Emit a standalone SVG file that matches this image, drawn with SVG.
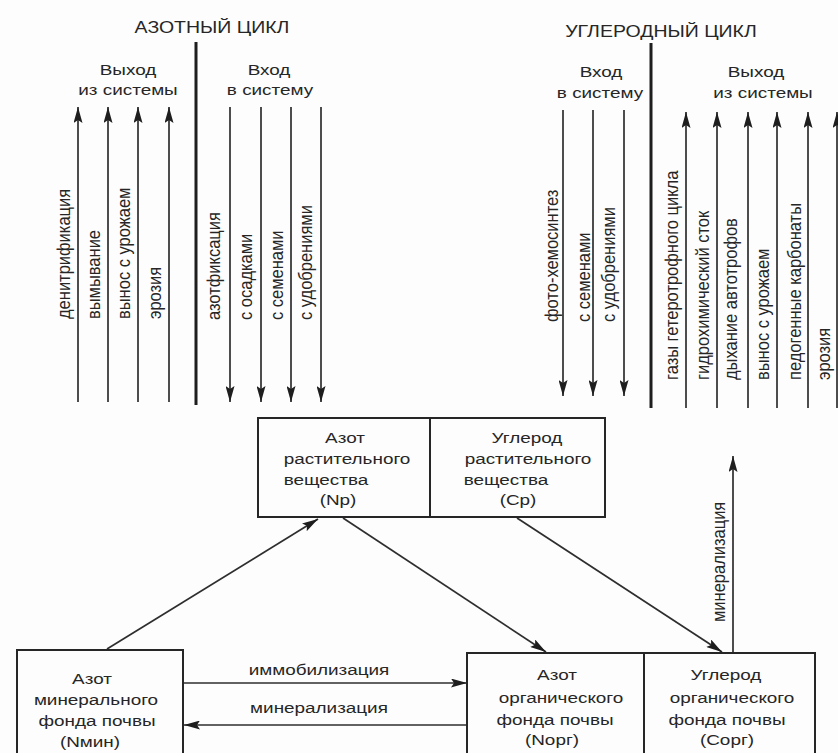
<svg xmlns="http://www.w3.org/2000/svg" width="838" height="753" viewBox="0 0 838 753">
<defs>
<style>
text{font-family:"Liberation Sans",Arial,sans-serif;fill:#262626;font-size:15.5px}
.c{text-anchor:middle}
.v{font-size:16.5px;text-anchor:start}
.t{font-size:16px}
.ln{stroke:#2e2e2e;stroke-width:1.7;fill:none}
.dv{stroke:#1e1e1e;stroke-width:3;fill:none}
.box{fill:none;stroke:#262626;stroke-width:2}
</style>
<marker id="ah" viewBox="0 0 16 9" refX="16" refY="4.5" markerWidth="16" markerHeight="9" markerUnits="userSpaceOnUse" orient="auto">
<path d="M0,0 L16,4.5 L0,9 L3,4.5 z" fill="#1e1e1e"/>
</marker>
</defs>
<rect width="838" height="753" fill="#fdfdfd"/>

<g id="headers">
<text class="c t" transform="translate(212 33) scale(1.22 1)">АЗОТНЫЙ ЦИКЛ</text>
<text class="c t" transform="translate(661 37) scale(1.22 1)">УГЛЕРОДНЫЙ ЦИКЛ</text>
<text class="c" transform="translate(128 75) scale(1.22 1)">Выход</text>
<text class="c" transform="translate(128 95) scale(1.22 1)">из системы</text>
<text class="c" transform="translate(269 75) scale(1.22 1)">Вход</text>
<text class="c" transform="translate(270 95) scale(1.22 1)">в систему</text>
<text class="c" transform="translate(601 77) scale(1.22 1)">Вход</text>
<text class="c" transform="translate(600 98) scale(1.22 1)">в систему</text>
<text class="c" transform="translate(756 77) scale(1.22 1)">Выход</text>
<text class="c" transform="translate(763 98) scale(1.22 1)">из системы</text>
</g>

<g id="connectors">
<line class="dv" x1="196" y1="42" x2="196" y2="405"/>
<line class="dv" x1="651" y1="43" x2="651" y2="408"/>
<line class="ln" x1="78" y1="402" x2="78" y2="107" marker-end="url(#ah)"/>
<line class="ln" x1="108" y1="402" x2="108" y2="107" marker-end="url(#ah)"/>
<line class="ln" x1="138" y1="402" x2="138" y2="107" marker-end="url(#ah)"/>
<line class="ln" x1="169" y1="402" x2="169" y2="107" marker-end="url(#ah)"/>
<line class="ln" x1="230" y1="107" x2="230" y2="402" marker-end="url(#ah)"/>
<line class="ln" x1="261" y1="107" x2="261" y2="402" marker-end="url(#ah)"/>
<line class="ln" x1="291" y1="107" x2="291" y2="402" marker-end="url(#ah)"/>
<line class="ln" x1="321" y1="107" x2="321" y2="402" marker-end="url(#ah)"/>
<line class="ln" x1="563" y1="110" x2="563" y2="396" marker-end="url(#ah)"/>
<line class="ln" x1="593" y1="110" x2="593" y2="396" marker-end="url(#ah)"/>
<line class="ln" x1="624" y1="110" x2="624" y2="396" marker-end="url(#ah)"/>
<line class="ln" x1="686" y1="408" x2="686" y2="112" marker-end="url(#ah)"/>
<line class="ln" x1="717" y1="408" x2="717" y2="112" marker-end="url(#ah)"/>
<line class="ln" x1="748" y1="408" x2="748" y2="112" marker-end="url(#ah)"/>
<line class="ln" x1="777" y1="408" x2="777" y2="112" marker-end="url(#ah)"/>
<line class="ln" x1="808" y1="408" x2="808" y2="112" marker-end="url(#ah)"/>
<line class="ln" x1="837" y1="408" x2="837" y2="112" marker-end="url(#ah)"/>
<line class="ln" x1="107" y1="649" x2="318" y2="519" marker-end="url(#ah)"/>
<line class="ln" x1="343" y1="518" x2="546" y2="652" marker-end="url(#ah)"/>
<line class="ln" x1="517" y1="518" x2="722" y2="652" marker-end="url(#ah)"/>
<line class="ln" x1="733" y1="653" x2="733" y2="456" marker-end="url(#ah)"/>
<line class="ln" x1="184" y1="683" x2="467" y2="683" marker-end="url(#ah)"/>
<line class="ln" x1="467" y1="725" x2="184" y2="725" marker-end="url(#ah)"/>

<text class="v" transform="translate(70 319) scale(1.15 1) rotate(-90)">денитрификация</text>
<text class="v" transform="translate(100 319) scale(1.15 1) rotate(-90)">вымывание</text>
<text class="v" transform="translate(130 319) scale(1.15 1) rotate(-90)">вынос с урожаем</text>
<text class="v" transform="translate(161 319) scale(1.15 1) rotate(-90)">эрозия</text>
<text class="v" transform="translate(220 320) scale(1.15 1) rotate(-90)">азотфиксация</text>
<text class="v" transform="translate(252 320) scale(1.15 1) rotate(-90)">с осадками</text>
<text class="v" transform="translate(283 320) scale(1.15 1) rotate(-90)">с семенами</text>
<text class="v" transform="translate(312 320) scale(1.15 1) rotate(-90)">с удобрениями</text>
<text class="v" transform="translate(558 322) scale(1.15 1) rotate(-90)">фото-хемосинтез</text>
<text class="v" transform="translate(590 322) scale(1.15 1) rotate(-90)">с семенами</text>
<text class="v" transform="translate(615 322) scale(1.15 1) rotate(-90)">с удобрениями</text>
<text class="v" transform="translate(678 380) scale(1.15 1) rotate(-90)">газы гетеротрофного цикла</text>
<text class="v" transform="translate(709 380) scale(1.15 1) rotate(-90)">гидрохимический сток</text>
<text class="v" transform="translate(737 380) scale(1.15 1) rotate(-90)">дыхание автотрофов</text>
<text class="v" transform="translate(769 380) scale(1.15 1) rotate(-90)">вынос с урожаем</text>
<text class="v" transform="translate(801 380) scale(1.15 1) rotate(-90)">педогенные карбонаты</text>
<text class="v" transform="translate(830 380) scale(1.15 1) rotate(-90)">эрозия</text>
<text class="v" transform="translate(725 622) scale(1.15 1) rotate(-90)">минерализация</text>
<text class="c" transform="translate(319 675) scale(1.22 1)">иммобилизация</text>
<text class="c" transform="translate(319 713) scale(1.22 1)">минерализация</text>
</g>

<g id="np">
<rect class="box" x="258" y="418" width="172" height="99"/>
<text class="c" transform="translate(345 443) scale(1.22 1)">Азот</text>
<text class="c" transform="translate(347 464) scale(1.22 1)">растительного</text>
<text class="c" transform="translate(326 485) scale(1.22 1)">вещества</text>
<text class="c" transform="translate(338 505) scale(1.22 1)">(Np)</text>
</g>
<g id="cp">
<rect class="box" x="430" y="418" width="175" height="99"/>
<text class="c" transform="translate(527 443) scale(1.22 1)">Углерод</text>
<text class="c" transform="translate(528 464) scale(1.22 1)">растительного</text>
<text class="c" transform="translate(506 485) scale(1.22 1)">вещества</text>
<text class="c" transform="translate(518 505) scale(1.22 1)">(Cp)</text>
</g>
<g id="nmin">
<rect class="box" x="17" y="650" width="166" height="104"/>
<text class="c" transform="translate(92 684) scale(1.22 1)">Азот</text>
<text class="c" transform="translate(96 705) scale(1.22 1)">минерального</text>
<text class="c" transform="translate(97 726) scale(1.22 1)">фонда почвы</text>
<text class="c" transform="translate(90 747) scale(1.22 1)">(Nмин)</text>
</g>
<g id="norg">
<rect class="box" x="467" y="653" width="177" height="101"/>
<text class="c" transform="translate(557 680) scale(1.22 1)">Азот</text>
<text class="c" transform="translate(561 703) scale(1.22 1)">органического</text>
<text class="c" transform="translate(555 725) scale(1.22 1)">фонда почвы</text>
<text class="c" transform="translate(552 745) scale(1.22 1)">(Nорг)</text>
</g>
<g id="corg">
<rect class="box" x="644" y="653" width="171" height="101"/>
<text class="c" transform="translate(726 680) scale(1.22 1)">Углерод</text>
<text class="c" transform="translate(732 703) scale(1.22 1)">органического</text>
<text class="c" transform="translate(727 725) scale(1.22 1)">фонда почвы</text>
<text class="c" transform="translate(727 745) scale(1.22 1)">(Сорг)</text>
</g>
</svg>
